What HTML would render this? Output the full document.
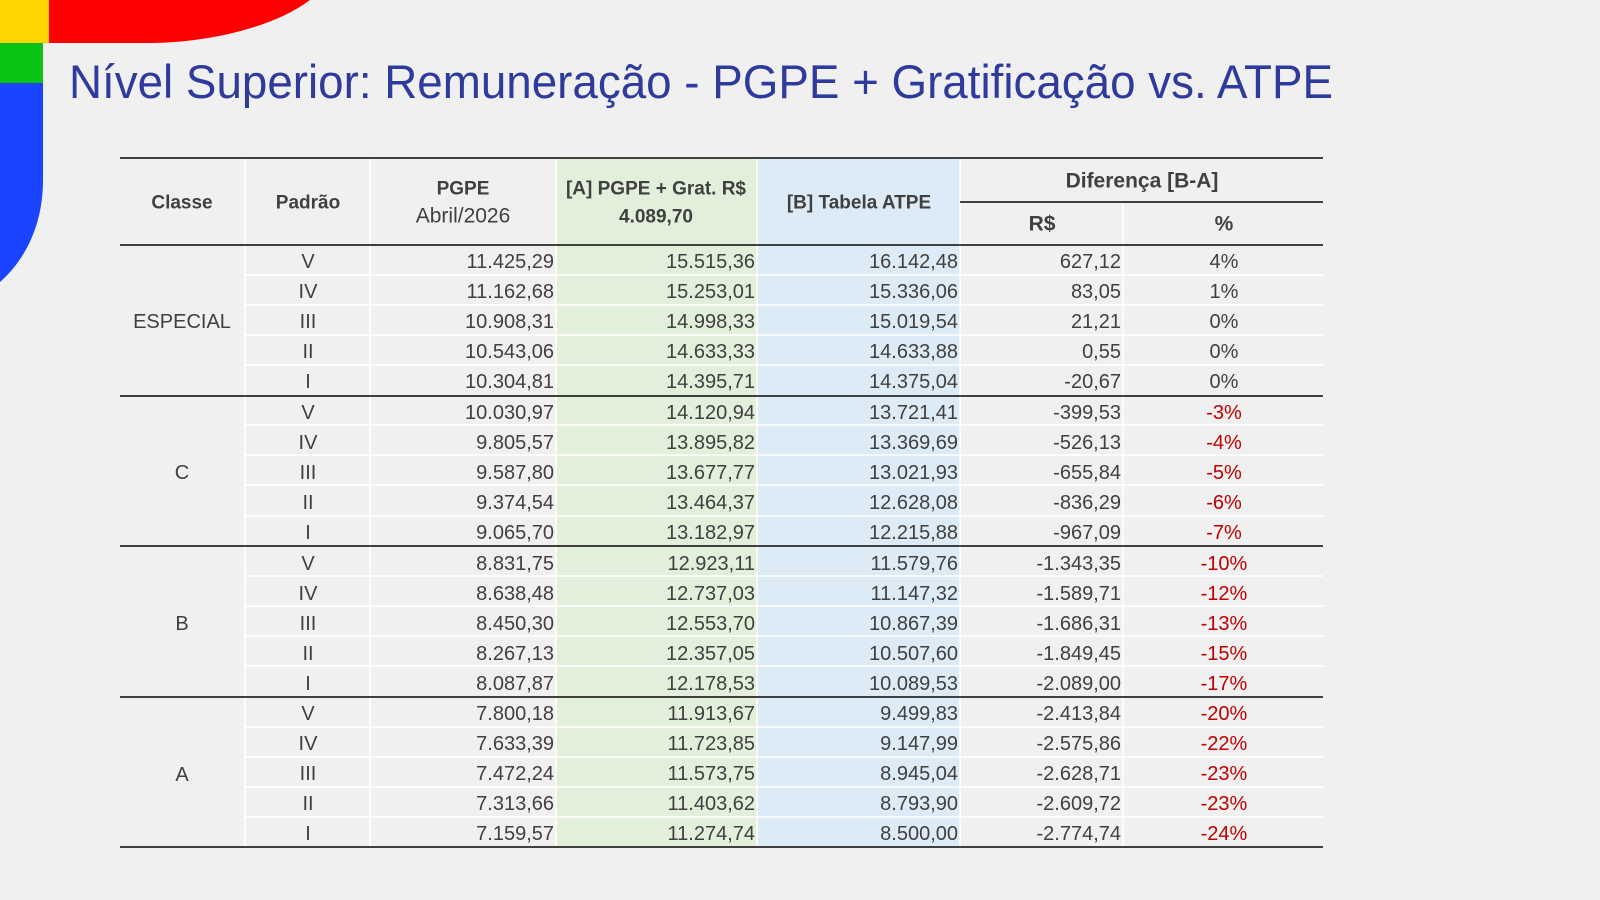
<!DOCTYPE html>
<html><head><meta charset="utf-8"><style>
html,body{margin:0;padding:0;background:#f0f0f0}
svg{display:block}
text{font-family:"Liberation Sans",Arial,sans-serif;fill:#404040}
.n{font-size:20px;text-anchor:end;dominant-baseline:central}
.c{font-size:20px;text-anchor:middle;dominant-baseline:central}
.h{font-size:19px;font-weight:bold;text-anchor:middle;dominant-baseline:central}
.r{fill:#c00000}
</style></head><body>
<svg width="1600" height="900" viewBox="0 0 1600 900" xmlns="http://www.w3.org/2000/svg">
<rect width="1600" height="900" fill="#f0f0f0"/>
<rect x="0" y="0" width="49" height="43" fill="#ffd400"/>
<path d="M49 0 H310 C270 30 200 43 150 43 H49 Z" fill="#ff0000"/>
<rect x="0" y="43" width="43" height="40" fill="#0bc313"/>
<path d="M0 83 H43 V180 C43 225 25 260 0 282 Z" fill="#1a44ff"/>
<text x="69" y="98" font-size="47" textLength="1264" lengthAdjust="spacingAndGlyphs" style="fill:#2e3a9c">Nível Superior: Remuneração - PGPE + Gratificação vs. ATPE</text>
<rect x="556" y="158" width="201" height="689" fill="#e2efda"/>
<rect x="757" y="158" width="203" height="689" fill="#ddebf7"/>
<g stroke="#ffffff" stroke-width="1.5">
<line x1="245" y1="158" x2="245" y2="847"/><line x1="370" y1="158" x2="370" y2="847"/>
<line x1="556" y1="158" x2="556" y2="847"/><line x1="757" y1="158" x2="757" y2="847"/>
<line x1="960" y1="158" x2="960" y2="847"/><line x1="1123" y1="202" x2="1123" y2="847"/>
<line x1="245" y1="275" x2="1323" y2="275"/><line x1="245" y1="305" x2="1323" y2="305"/><line x1="245" y1="335" x2="1323" y2="335"/><line x1="245" y1="365" x2="1323" y2="365"/>
<line x1="245" y1="425" x2="1323" y2="425"/><line x1="245" y1="455" x2="1323" y2="455"/><line x1="245" y1="485" x2="1323" y2="485"/><line x1="245" y1="516" x2="1323" y2="516"/>
<line x1="245" y1="576" x2="1323" y2="576"/><line x1="245" y1="606" x2="1323" y2="606"/><line x1="245" y1="636" x2="1323" y2="636"/><line x1="245" y1="666" x2="1323" y2="666"/>
<line x1="245" y1="727" x2="1323" y2="727"/><line x1="245" y1="757" x2="1323" y2="757"/><line x1="245" y1="787" x2="1323" y2="787"/><line x1="245" y1="817" x2="1323" y2="817"/>
</g>
<g stroke="#404040" stroke-width="2">
<line x1="120" y1="158" x2="1323" y2="158"/>
<line x1="960" y1="202" x2="1323" y2="202"/>
<line x1="120" y1="245" x2="1323" y2="245"/>
<line x1="120" y1="396" x2="1323" y2="396"/>
<line x1="120" y1="546" x2="1323" y2="546"/>
<line x1="120" y1="697" x2="1323" y2="697"/>
<line x1="120" y1="847" x2="1323" y2="847"/>
</g>
<text class="h" x="182" y="203">Classe</text>
<text class="h" x="308" y="203">Padrão</text>
<text class="h" x="463" y="189">PGPE</text>
<text class="c" x="463" y="216" style="font-size:21px">Abril/2026</text>
<text class="h" x="656" y="189">[A] PGPE + Grat. R$</text>
<text class="h" x="656" y="217">4.089,70</text>
<text class="h" x="859" y="203">[B] Tabela ATPE</text>
<text class="h" x="1142" y="181" style="font-size:21px">Diferença [B-A]</text>
<text class="h" x="1042" y="224" style="font-size:21px">R$</text>
<text class="h" x="1224" y="224" style="font-size:21px">%</text>
<text class="c" x="182" y="322">ESPECIAL</text>
<text class="c" x="182" y="473">C</text>
<text class="c" x="182" y="624">B</text>
<text class="c" x="182" y="775">A</text>
<g>
<text class="c" x="308" y="262">V</text><text class="n" x="554" y="262">11.425,29</text><text class="n" x="755" y="262">15.515,36</text><text class="n" x="958" y="262">16.142,48</text><text class="n" x="1121" y="262">627,12</text><text class="c" x="1224" y="262">4%</text>
<text class="c" x="308" y="292">IV</text><text class="n" x="554" y="292">11.162,68</text><text class="n" x="755" y="292">15.253,01</text><text class="n" x="958" y="292">15.336,06</text><text class="n" x="1121" y="292">83,05</text><text class="c" x="1224" y="292">1%</text>
<text class="c" x="308" y="322">III</text><text class="n" x="554" y="322">10.908,31</text><text class="n" x="755" y="322">14.998,33</text><text class="n" x="958" y="322">15.019,54</text><text class="n" x="1121" y="322">21,21</text><text class="c" x="1224" y="322">0%</text>
<text class="c" x="308" y="352">II</text><text class="n" x="554" y="352">10.543,06</text><text class="n" x="755" y="352">14.633,33</text><text class="n" x="958" y="352">14.633,88</text><text class="n" x="1121" y="352">0,55</text><text class="c" x="1224" y="352">0%</text>
<text class="c" x="308" y="382">I</text><text class="n" x="554" y="382">10.304,81</text><text class="n" x="755" y="382">14.395,71</text><text class="n" x="958" y="382">14.375,04</text><text class="n" x="1121" y="382">-20,67</text><text class="c" x="1224" y="382">0%</text>
<text class="c" x="308" y="413">V</text><text class="n" x="554" y="413">10.030,97</text><text class="n" x="755" y="413">14.120,94</text><text class="n" x="958" y="413">13.721,41</text><text class="n" x="1121" y="413">-399,53</text><text class="c r" x="1224" y="413">-3%</text>
<text class="c" x="308" y="443">IV</text><text class="n" x="554" y="443">9.805,57</text><text class="n" x="755" y="443">13.895,82</text><text class="n" x="958" y="443">13.369,69</text><text class="n" x="1121" y="443">-526,13</text><text class="c r" x="1224" y="443">-4%</text>
<text class="c" x="308" y="473">III</text><text class="n" x="554" y="473">9.587,80</text><text class="n" x="755" y="473">13.677,77</text><text class="n" x="958" y="473">13.021,93</text><text class="n" x="1121" y="473">-655,84</text><text class="c r" x="1224" y="473">-5%</text>
<text class="c" x="308" y="503">II</text><text class="n" x="554" y="503">9.374,54</text><text class="n" x="755" y="503">13.464,37</text><text class="n" x="958" y="503">12.628,08</text><text class="n" x="1121" y="503">-836,29</text><text class="c r" x="1224" y="503">-6%</text>
<text class="c" x="308" y="533">I</text><text class="n" x="554" y="533">9.065,70</text><text class="n" x="755" y="533">13.182,97</text><text class="n" x="958" y="533">12.215,88</text><text class="n" x="1121" y="533">-967,09</text><text class="c r" x="1224" y="533">-7%</text>
<text class="c" x="308" y="564">V</text><text class="n" x="554" y="564">8.831,75</text><text class="n" x="755" y="564">12.923,11</text><text class="n" x="958" y="564">11.579,76</text><text class="n" x="1121" y="564">-1.343,35</text><text class="c r" x="1224" y="564">-10%</text>
<text class="c" x="308" y="594">IV</text><text class="n" x="554" y="594">8.638,48</text><text class="n" x="755" y="594">12.737,03</text><text class="n" x="958" y="594">11.147,32</text><text class="n" x="1121" y="594">-1.589,71</text><text class="c r" x="1224" y="594">-12%</text>
<text class="c" x="308" y="624">III</text><text class="n" x="554" y="624">8.450,30</text><text class="n" x="755" y="624">12.553,70</text><text class="n" x="958" y="624">10.867,39</text><text class="n" x="1121" y="624">-1.686,31</text><text class="c r" x="1224" y="624">-13%</text>
<text class="c" x="308" y="654">II</text><text class="n" x="554" y="654">8.267,13</text><text class="n" x="755" y="654">12.357,05</text><text class="n" x="958" y="654">10.507,60</text><text class="n" x="1121" y="654">-1.849,45</text><text class="c r" x="1224" y="654">-15%</text>
<text class="c" x="308" y="684">I</text><text class="n" x="554" y="684">8.087,87</text><text class="n" x="755" y="684">12.178,53</text><text class="n" x="958" y="684">10.089,53</text><text class="n" x="1121" y="684">-2.089,00</text><text class="c r" x="1224" y="684">-17%</text>
<text class="c" x="308" y="714">V</text><text class="n" x="554" y="714">7.800,18</text><text class="n" x="755" y="714">11.913,67</text><text class="n" x="958" y="714">9.499,83</text><text class="n" x="1121" y="714">-2.413,84</text><text class="c r" x="1224" y="714">-20%</text>
<text class="c" x="308" y="744">IV</text><text class="n" x="554" y="744">7.633,39</text><text class="n" x="755" y="744">11.723,85</text><text class="n" x="958" y="744">9.147,99</text><text class="n" x="1121" y="744">-2.575,86</text><text class="c r" x="1224" y="744">-22%</text>
<text class="c" x="308" y="774">III</text><text class="n" x="554" y="774">7.472,24</text><text class="n" x="755" y="774">11.573,75</text><text class="n" x="958" y="774">8.945,04</text><text class="n" x="1121" y="774">-2.628,71</text><text class="c r" x="1224" y="774">-23%</text>
<text class="c" x="308" y="804">II</text><text class="n" x="554" y="804">7.313,66</text><text class="n" x="755" y="804">11.403,62</text><text class="n" x="958" y="804">8.793,90</text><text class="n" x="1121" y="804">-2.609,72</text><text class="c r" x="1224" y="804">-23%</text>
<text class="c" x="308" y="834">I</text><text class="n" x="554" y="834">7.159,57</text><text class="n" x="755" y="834">11.274,74</text><text class="n" x="958" y="834">8.500,00</text><text class="n" x="1121" y="834">-2.774,74</text><text class="c r" x="1224" y="834">-24%</text>
</g>
</svg>
</body></html>
